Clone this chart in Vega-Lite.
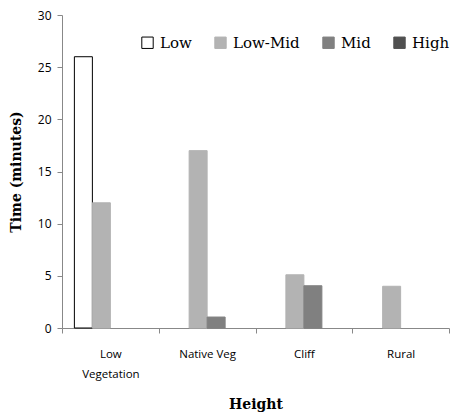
{
  "$schema": "https://vega.github.io/schema/vega-lite/v6.json",
  "autosize": "none",
  "width": 387,
  "height": 313,
  "padding": {"left": 62, "top": 15, "right": 2, "bottom": 89},
  "background": "white",
  "data": {"values": [
    {"cat": "Low Vegetation", "level": "Low", "v": 26},
    {"cat": "Low Vegetation", "level": "Low-Mid", "v": 12},
    {"cat": "Native Veg", "level": "Low-Mid", "v": 17},
    {"cat": "Native Veg", "level": "Mid", "v": 1.05},
    {"cat": "Cliff", "level": "Low-Mid", "v": 5.1},
    {"cat": "Cliff", "level": "Mid", "v": 4.05},
    {"cat": "Rural", "level": "Low-Mid", "v": 4}
  ]},
  "config": {"view": {"stroke": null}},
  "mark": {"type": "bar", "strokeWidth": 1},
  "encoding": {
    "x": {"field": "cat", "type": "nominal", "sort": ["Low Vegetation", "Native Veg", "Cliff", "Rural"],
      "scale": {"paddingInner": 0, "paddingOuter": 0},
      "axis": {"title": "Height", "labelAngle": 0, "tickBand": "extent", "domainColor": "#888", "tickColor": "#888", "tickSize": 5,
        "labelFont": "Open Sans", "labelFontSize": 11.5, "labelColor": "#000", "labelPadding": 15, "labelLineHeight": 20,
        "labelExpr": "datum.label == 'Low Vegetation' ? ['Low', 'Vegetation'] : datum.label",
        "titleFont": "DejaVu Serif", "titleFontWeight": "bold", "titleFontSize": 14, "titlePadding": 18, "titleColor": "#000"}},
    "xOffset": {"field": "level", "type": "nominal", "sort": ["Low", "Low-Mid", "Mid", "High"],
      "scale": {"domain": ["Low", "Low-Mid", "Mid", "High"], "paddingInner": 0, "paddingOuter": 0.6875}},
    "y": {"field": "v", "type": "quantitative", "scale": {"domain": [0, 30]},
      "axis": {"title": "Time (minutes)", "values": [0, 5, 10, 15, 20, 25, 30], "grid": false, "domainColor": "#888", "tickColor": "#888", "tickSize": 5,
        "labelFont": "Open Sans", "labelFontSize": 12, "labelColor": "#000", "labelPadding": 6,
        "titleFont": "DejaVu Serif", "titleFontWeight": "bold", "titleFontSize": 14, "titlePadding": 14, "titleColor": "#000"}},
    "fill": {"field": "level", "type": "nominal",
      "scale": {"domain": ["Low", "Low-Mid", "Mid", "High"], "range": ["#ffffff", "#b3b3b3", "#808080", "#505050"]},
      "legend": {"title": null, "orient": "none", "legendX": 78, "legendY": 20, "direction": "horizontal",
        "symbolType": "square", "symbolSize": 130, "symbolStrokeWidth": 1,
        "labelFont": "DejaVu Serif", "labelFontSize": 15, "labelColor": "#000", "columnPadding": 20, "labelOffset": 5}},
    "stroke": {"field": "level", "type": "nominal",
      "scale": {"domain": ["Low", "Low-Mid", "Mid", "High"], "range": ["#000000", "#b3b3b3", "#808080", "#505050"]},
      "legend": {"title": null, "orient": "none", "legendX": 78, "legendY": 20, "direction": "horizontal",
        "symbolType": "square", "symbolSize": 130, "symbolStrokeWidth": 1,
        "labelFont": "DejaVu Serif", "labelFontSize": 15, "labelColor": "#000", "columnPadding": 20, "labelOffset": 5}}
  }
}
